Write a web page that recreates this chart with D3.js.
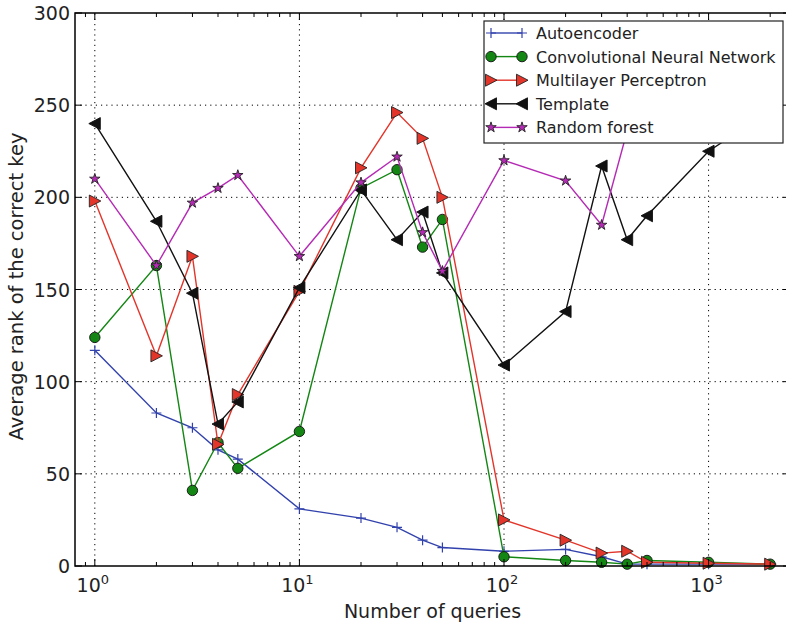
<!DOCTYPE html>
<html>
<head>
<meta charset="utf-8">
<script src="https://cdn.jsdelivr.net/npm/d3@7"></script>
<style>
  body { margin: 0; background: #fff; }
  svg { display: block; font-family: "DejaVu Sans", sans-serif; }
</style>
</head>
<body>
<div id="chart"></div>
<script>
// data
const queries = [1, 2, 3, 4, 5, 10, 20, 30, 40, 50, 100, 200, 300, 400, 500, 1000, 2000];
const autoencoder = [117, 83, 75, 63, 58, 31, 26, 21, 14, 10, 8, 9, 5, 1, 1, 1, 1];
const cnn = [124, 163, 41, 67, 53, 73, 205, 215, 173, 188, 5, 3, 2, 1, 3, 2, 1];
const mlp = [198, 114, 168, 66, 93, 149, 216, 246, 232, 200, 25, 14, 7, 8, 2, 1.5, 1];
const template = [240, 187, 148, 77, 89, 151, 204, 177, 192, 159, 109, 138, 217, 177, 190, 225, 247];
const randomForest = [210, 163, 197, 205, 212, 168, 208, 222, 181, 160, 220, 209, 185, 236, 242, 250, 256];

const seriesNames = ["Autoencoder", "Convolutional Neural Network", "Multilayer Perceptron", "Template", "Random forest"];
const yTicks = [0, 50, 100, 150, 200, 250, 300];
const xMajor = [1, 10, 100, 1000];

const width = 786, height = 624;
const margin = {left: 75, right: -4, top: 13, bottom: 58};

const svg = d3.select("#chart").append("svg")
    .attr("width", width)
    .attr("height", height);

const x = d3.scaleLog()
    .domain([0.8, 2500])
    .range([margin.left, width - margin.right]);
const y = d3.scaleLinear()
    .domain([0, 300])
    .range([height - margin.bottom, margin.top]);

const x0 = x.range()[0], x1 = x.range()[1];
const y0 = y.range()[0], y1 = y.range()[1];

// minor ticks for the log axis
const xMinor = [];
[0.1, 1, 10, 100, 1000].forEach(p => {
    for (let k = 2; k <= 9; k++) {
        const v = k * p;
        if (v > 0.8 && v < 2500) xMinor.push(v);
    }
});

// grid
const grid = svg.append("g")
    .attr("stroke", "#000")
    .attr("stroke-width", 1)
    .attr("stroke-dasharray", "1.2,4");
grid.selectAll(".gx").data(xMajor).enter().append("line")
    .attr("x1", d => x(d)).attr("x2", d => x(d))
    .attr("y1", y0).attr("y2", y1);
grid.selectAll(".gy").data(yTicks.slice(1, -1)).enter().append("line")
    .attr("x1", x0).attr("x2", x1)
    .attr("y1", d => y(d)).attr("y2", d => y(d));

// series
const series = [
    {name: seriesNames[0], values: autoencoder, color: "#3242ad", marker: "plus"},
    {name: seriesNames[1], values: cnn, color: "#138613", marker: "circle"},
    {name: seriesNames[2], values: mlp, color: "#e3352a", marker: "triRight"},
    {name: seriesNames[3], values: template, color: "#111111", marker: "triLeft"},
    {name: seriesNames[4], values: randomForest, color: "#b52ab5", marker: "star"}
];

function starPath(r) {
    const pts = [];
    for (let i = 0; i < 10; i++) {
        const rr = i % 2 === 0 ? r : r * 0.382;
        const a = -Math.PI / 2 + i * Math.PI / 5;
        pts.push([rr * Math.cos(a), rr * Math.sin(a)]);
    }
    return "M" + pts.map(p => p.join(",")).join("L") + "Z";
}

function drawMarker(g, type, color) {
    if (type === "plus") {
        g.append("path").attr("d", "M-5,0H5M0,-5V5")
            .attr("stroke", color).attr("stroke-width", 1.2).attr("fill", "none");
    } else if (type === "circle") {
        g.append("circle").attr("r", 5.2)
            .attr("fill", color).attr("stroke", "#111").attr("stroke-width", 0.9);
    } else if (type === "triRight") {
        g.append("path").attr("d", "M6,0L-5.5,-6L-5.5,6Z")
            .attr("fill", color).attr("stroke", "#222").attr("stroke-width", 0.9);
    } else if (type === "triLeft") {
        g.append("path").attr("d", "M-6,0L5.5,-6L5.5,6Z")
            .attr("fill", color).attr("stroke", "#111").attr("stroke-width", 0.9);
    } else if (type === "star") {
        g.append("path").attr("d", starPath(5.5))
            .attr("fill", color).attr("stroke", "#222").attr("stroke-width", 0.9);
    }
}

const line = d3.line()
    .x((d, i) => x(queries[i]))
    .y(d => y(d));

const plot = svg.append("g");
series.forEach(s => {
    const g = plot.append("g");
    g.append("path")
        .attr("d", line(s.values))
        .attr("fill", "none")
        .attr("stroke", s.color)
        .attr("stroke-width", 1.4);
    s.values.forEach((v, i) => {
        const m = g.append("g").attr("transform", `translate(${x(queries[i])},${y(v)})`);
        drawMarker(m, s.marker, s.color);
    });
});

// frame and ticks
const axes = svg.append("g").attr("stroke", "#000");
axes.append("rect")
    .attr("x", x0).attr("y", y1)
    .attr("width", x1 - x0).attr("height", y0 - y1)
    .attr("fill", "none").attr("stroke-width", 1.5);

const tickG = axes.append("g").attr("stroke-width", 1);
xMajor.forEach(v => {
    tickG.append("line").attr("x1", x(v)).attr("x2", x(v)).attr("y1", y0).attr("y2", y0 - 7);
    tickG.append("line").attr("x1", x(v)).attr("x2", x(v)).attr("y1", y1).attr("y2", y1 + 7);
});
xMinor.forEach(v => {
    tickG.append("line").attr("x1", x(v)).attr("x2", x(v)).attr("y1", y0).attr("y2", y0 - 4);
    tickG.append("line").attr("x1", x(v)).attr("x2", x(v)).attr("y1", y1).attr("y2", y1 + 4);
});
yTicks.forEach(v => {
    tickG.append("line").attr("x1", x0).attr("x2", x0 + 7).attr("y1", y(v)).attr("y2", y(v));
    tickG.append("line").attr("x1", x1).attr("x2", x1 - 7).attr("y1", y(v)).attr("y2", y(v));
});

// tick labels
svg.append("g").selectAll("text").data(yTicks).enter().append("text")
    .attr("x", x0 - 5)
    .attr("y", d => y(d) + 7)
    .attr("text-anchor", "end")
    .style("font-size", "19px")
    .attr("fill", "#222")
    .text(d => d);

const xl = svg.append("g").selectAll("text").data(xMajor).enter().append("text")
    .attr("x", d => x(d) - 2)
    .attr("y", y0 + 26)
    .attr("text-anchor", "middle")
    .style("font-size", "19px")
    .attr("fill", "#222");
xl.append("tspan").text("10");
xl.append("tspan").attr("dy", -8).style("font-size", "13px").text(d => Math.round(Math.log10(d)));

// axis titles
svg.append("text")
    .attr("x", (x0 + x1) / 2)
    .attr("y", y0 + 52)
    .attr("text-anchor", "middle")
    .style("font-size", "19px")
    .attr("fill", "#222")
    .text("Number of queries");

svg.append("text")
    .attr("transform", `translate(23,${(y0 + y1) / 2 - 3}) rotate(-90)`)
    .attr("text-anchor", "middle")
    .style("font-size", "19.5px")
    .attr("fill", "#222")
    .text("Average rank of the correct key");

// legend
const legend = svg.append("g").attr("transform", "translate(484,21)");
legend.append("rect")
    .attr("width", 299).attr("height", 122)
    .attr("fill", "#fff").attr("stroke", "#222").attr("stroke-width", 1.2);
series.forEach((s, i) => {
    const row = legend.append("g").attr("transform", `translate(0,${12 + i * 23.6})`);
    row.append("line").attr("x1", 7).attr("x2", 38)
        .attr("stroke", s.color).attr("stroke-width", 1.4);
    [7, 38].forEach(px => drawMarker(row.append("g").attr("transform", `translate(${px},0)`), s.marker, s.color));
    row.append("text")
        .attr("x", 52).attr("y", 6)
        .style("font-size", "16px")
        .attr("fill", "#222")
        .text(s.name);
});
</script>
</body>
</html>
